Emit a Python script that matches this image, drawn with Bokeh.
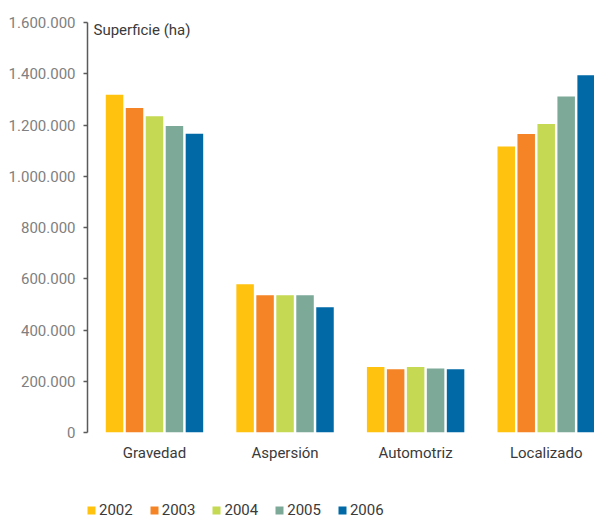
from bokeh.plotting import figure
from bokeh.layouts import column
from bokeh.models import ColumnDataSource, FixedTicker, Legend, LegendItem, Label
from bokeh.embed import file_html
from bokeh.resources import INLINE

categories = ["Gravedad", "Aspersión", "Automotriz", "Localizado"]
years = ["2002", "2003", "2004", "2005", "2006"]
values = {
    "2002": [1318000, 579000, 256000, 1116000],
    "2003": [1266000, 536000, 247000, 1165000],
    "2004": [1234000, 536000, 256000, 1204000],
    "2005": [1196000, 536000, 250000, 1311000],
    "2006": [1166000, 489000, 247000, 1394000],
}
colors = ["#FFC20E", "#F58426", "#C5D953", "#7CA998", "#0069A6"]
y_ticks = [0, 200000, 400000, 600000, 800000, 1000000, 1200000, 1400000, 1600000]
y_tick_labels = ["0", "200.000", "400.000", "600.000", "800.000", "1.000.000",
                 "1.200.000", "1.400.000", "1.600.000"]
y_title = "Superficie (ha)"

FONT = "Roboto"

p = figure(width=594, height=478, output_backend="svg", toolbar_location=None,
           x_range=(-0.513, 3.37), y_range=(0, 1600000),
           min_border_left=87, min_border_right=0, min_border_top=22, min_border_bottom=46)
p.outline_line_color = None
p.xgrid.grid_line_color = None
p.ygrid.grid_line_color = None

step = 0.153
bw = 0.134
for j, (yr, col) in enumerate(zip(years, colors)):
    src = ColumnDataSource(dict(x=[i + (j - 2) * step for i in range(len(categories))],
                                top=values[yr]))
    p.vbar(x="x", top="top", width=bw, source=src, fill_color=col, line_color=None)

# y axis
ya = p.yaxis[0]
ya.ticker = FixedTicker(ticks=y_ticks)
ya.major_label_overrides = {t: l for t, l in zip(y_ticks, y_tick_labels)}
ya.axis_line_color = "#5a5a5a"
ya.axis_line_width = 1.5
ya.major_tick_line_color = "#5a5a5a"
ya.major_tick_line_width = 1.5
ya.major_tick_out = 4
ya.major_tick_in = 0
ya.minor_tick_line_color = None
ya.major_label_standoff = 8
ya.major_label_text_font = FONT
ya.major_label_text_font_size = "15px"
ya.major_label_text_color = "#808080"

# x axis
xa = p.xaxis[0]
xa.ticker = FixedTicker(ticks=list(range(len(categories))))
xa.major_label_overrides = {i: c for i, c in enumerate(categories)}
xa.axis_line_color = None
xa.major_tick_line_color = None
xa.minor_tick_line_color = None
xa.major_label_standoff = 5
xa.major_label_text_font = FONT
xa.major_label_text_font_size = "15px"
xa.major_label_text_color = "#3a3a3a"

p.add_layout(Label(x=-0.467, y=1569000, text=y_title, text_baseline="middle",
                   text_font=FONT, text_font_size="15px", text_color="#3a3a3a"))

# legend strip (zero-height proxy bars, only used for legend swatches)
lg = figure(width=594, height=40, output_backend="svg", toolbar_location=None,
            x_range=(0, 1), y_range=(0, 1),
            x_axis_location=None, y_axis_location=None,
            min_border_left=0, min_border_right=0, min_border_top=0, min_border_bottom=0)
lg.outline_line_color = None
lg.grid.visible = False
items = []
for yr, col in zip(years, colors):
    r = lg.vbar(x=[0.5], top=[0], bottom=[0], width=0.0, fill_color=col, line_color=None)
    items.append(LegendItem(label=yr, renderers=[r]))
legend = Legend(items=items, orientation="horizontal", location=(-1, -1),
                padding=0, margin=0, spacing=16, label_standoff=3,
                glyph_width=10, glyph_height=10, label_height=10,
                border_line_color=None, background_fill_alpha=0,
                label_text_font=FONT, label_text_font_size="15px",
                label_text_color="#3a3a3a")
lg.add_layout(legend, "center")

layout = column(p, lg, spacing=0)
open("out.html", "w").write(file_html(layout, INLINE))
